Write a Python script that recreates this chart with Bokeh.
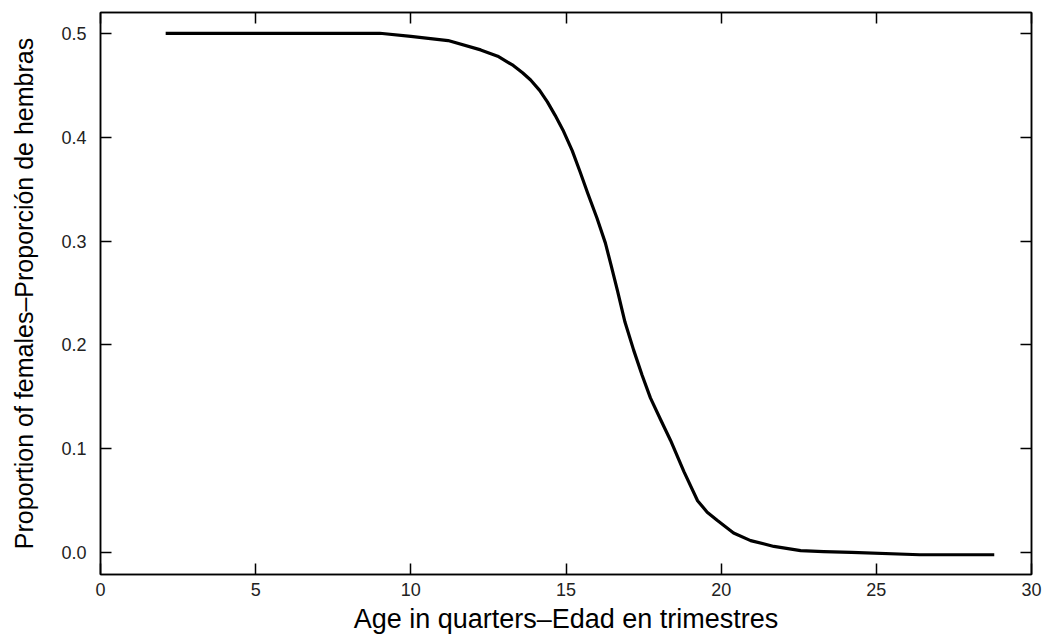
from bokeh.plotting import figure
from bokeh.models import LinearAxis, Range1d, FixedTicker
from bokeh.embed import file_html
from bokeh.resources import INLINE

# Data
age = [2.1, 4.0, 6.0, 8.0, 9.0, 10.0, 11.2, 12.25, 12.8, 13.3, 13.6, 13.86,
       14.15, 14.4, 14.65, 14.9, 15.2, 15.45, 15.7, 16.0, 16.27, 16.45, 16.66,
       16.9, 17.18, 17.45, 17.72, 18.05, 18.37, 18.8, 19.24, 19.55, 19.88,
       20.4, 20.95, 21.7, 22.56, 23.3, 24.2, 26.4, 28.8]
prop_females = [0.5, 0.5, 0.5, 0.5, 0.5, 0.497, 0.493, 0.484, 0.478, 0.469,
                0.462, 0.455, 0.445, 0.434, 0.421, 0.407, 0.387, 0.367, 0.346,
                0.322, 0.298, 0.277, 0.252, 0.222, 0.195, 0.171, 0.149, 0.128,
                0.108, 0.078, 0.050, 0.039, 0.031, 0.019, 0.0116, 0.006,
                0.002, 0.001, 0.0003, -0.002, -0.002]
x_ticks = [0, 5, 10, 15, 20, 25, 30]
y_ticks = [0.0, 0.1, 0.2, 0.3, 0.4, 0.5]
y_tick_labels = {0.0: "0.0", 0.1: "0.1", 0.2: "0.2", 0.3: "0.3", 0.4: "0.4", 0.5: "0.5"}

FONT = "Liberation Sans"

p = figure(width=1045, height=643, output_backend="svg", toolbar_location=None,
           x_range=Range1d(0, 30), y_range=Range1d(-0.021, 0.52),
           min_border_left=100, min_border_right=14, min_border_top=12,
           min_border_bottom=69)
p.background_fill_color = "white"
p.border_fill_color = "white"
p.outline_line_color = "black"
p.outline_line_width = 1.5
p.grid.visible = False

p.line(age, prop_females, line_color="black", line_width=3.2,
       line_join="round", line_cap="butt")

def style(ax, labels=True):
    ax.major_tick_in = 11
    ax.major_tick_out = 0
    ax.minor_tick_in = 0
    ax.minor_tick_out = 0
    ax.axis_line_color = "black"
    ax.axis_line_width = 1.5
    ax.major_tick_line_color = "black"
    ax.major_tick_line_width = 1.5
    ax.major_label_text_font = FONT
    ax.axis_label_text_font = FONT
    ax.axis_label_text_font_style = "normal"
    ax.axis_label_text_color = "black"
    ax.major_label_text_font_size = "18px"
    ax.major_label_text_color = "#222222"
    if not labels:
        ax.major_label_standoff = 0

xa = p.xaxis[0]
ya = p.yaxis[0]
xa.ticker = FixedTicker(ticks=x_ticks)
ya.ticker = FixedTicker(ticks=y_ticks)
ya.major_label_overrides = y_tick_labels
xa.axis_label = "Age in quarters\u2013Edad en trimestres"
ya.axis_label = "Proportion of females\u2013Proporci\u00f3n de hembras"
style(xa)
style(ya)
xa.axis_label_text_font_size = "27px"
ya.axis_label_text_font_size = "25px"
xa.major_label_standoff = 8
ya.major_label_standoff = 14
xa.axis_label_standoff = 5
ya.axis_label_standoff = 20

top = LinearAxis(ticker=FixedTicker(ticks=x_ticks),
                 major_label_overrides={t: "" for t in x_ticks})
right = LinearAxis(ticker=FixedTicker(ticks=y_ticks),
                   major_label_overrides={t: "" for t in y_ticks})
style(top, labels=False)
style(right, labels=False)
p.add_layout(top, "above")
p.add_layout(right, "right")

open("out.html", "w").write(file_html(p, INLINE))
